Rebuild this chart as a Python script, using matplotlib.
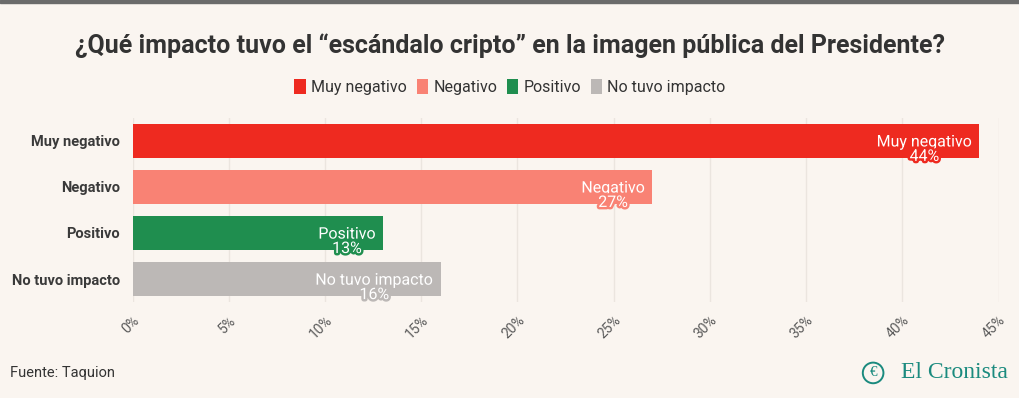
import matplotlib
matplotlib.use("Agg")
from matplotlib import pyplot as plt
from matplotlib.patches import Patch, Rectangle
from matplotlib.ticker import FuncFormatter
import matplotlib.patheffects as pe

# datos
categorias = ["Muy negativo", "Negativo", "Positivo", "No tuvo impacto"]
valores = [44, 27, 13, 16]
colores = ["#ee2a20", "#f98274", "#1f8e4f", "#bcb8b6"]
ticks_x = [0, 5, 10, 15, 20, 25, 30, 35, 40, 45]

fondo = "#faf5f0"
fuente = ["Roboto", "DejaVu Sans"]
serif = ["Liberation Serif", "DejaVu Serif"]
verde_logo = "#1a8a7e"

fig = plt.figure(figsize=(10.2, 3.98), dpi=100, facecolor=fondo)
ax = fig.add_axes([0.130, 0.241, 0.849, 0.463], facecolor=fondo)

# barra gris de arriba
fig.patches.append(Rectangle((0, 0.992), 1, 0.008, transform=fig.transFigure,
                             color="#6b6b6b", zorder=5))

pos = list(range(len(categorias)))
ax.barh(pos, valores, height=0.74, color=colores, zorder=2)
ax.set_ylim(3.5, -0.5)
ax.set_xlim(0, 45)

# etiquetas de cada barra
for i, (cat, val, col) in enumerate(zip(categorias, valores, colores)):
    ax.annotate(f"{cat}\n{val}%", xy=(val, i), xytext=(-5, -6),
                textcoords="offset points", ha="right", va="center",
                multialignment="center", linespacing=0.95,
                color="white", fontsize=11.5, family=fuente, zorder=3,
                path_effects=[pe.withStroke(linewidth=3.5, foreground=col)])

# ejes
ax.set_yticks(pos)
ax.set_yticklabels(categorias, fontsize=10.5, fontweight="bold",
                   color="#3a3a3a", family=fuente)
ax.set_xticks(ticks_x)
ax.xaxis.set_major_formatter(FuncFormatter(lambda v, p: f"{v:.0f}%"))
for lab in ax.get_xticklabels():
    lab.set_rotation(45)
    lab.set_ha("right")
    lab.set_va("top")
    lab.set_rotation_mode("anchor")
    lab.set_fontsize(10)
    lab.set_color("#5a5a5a")
    lab.set_family(fuente)
ax.tick_params(axis="both", length=0)
ax.tick_params(axis="y", pad=9)
ax.tick_params(axis="x", pad=8)
ax.grid(axis="x", color="#ebe5df", linewidth=1, zorder=0)
for s in ax.spines.values():
    s.set_visible(False)

# titulo
fig.text(0.5, 0.885, "¿Qué impacto tuvo el “escándalo cripto” en la imagen pública del Presidente?",
         ha="center", va="center", fontsize=18, fontweight="bold",
         color="#333333", family=fuente)

# leyenda
manijas = [Patch(facecolor=c, edgecolor="none") for c in colores]
fig.legend(manijas, categorias, loc="center", bbox_to_anchor=(0.5, 0.782),
           ncol=4, frameon=False, handlelength=0.7,
           handleheight=1.1, handletextpad=0.35, columnspacing=0.6,
           prop={"family": fuente, "size": 11.5}, labelcolor="#333333")

# pie
fig.text(0.010, 0.063, "Fuente: Taquion", ha="left", va="center",
         fontsize=10.5, color="#333333", family=fuente)
fig.text(0.988, 0.063, "El Cronista", ha="right", va="center",
         fontsize=17, color=verde_logo, family=serif)
fig.text(0.856, 0.063, "€", ha="center", va="center", fontsize=11,
         color=verde_logo, family=serif,
         bbox=dict(boxstyle="circle,pad=0.25", fc="none", ec=verde_logo, lw=1.4))

plt.savefig("out.png", dpi=100, facecolor=fondo)
